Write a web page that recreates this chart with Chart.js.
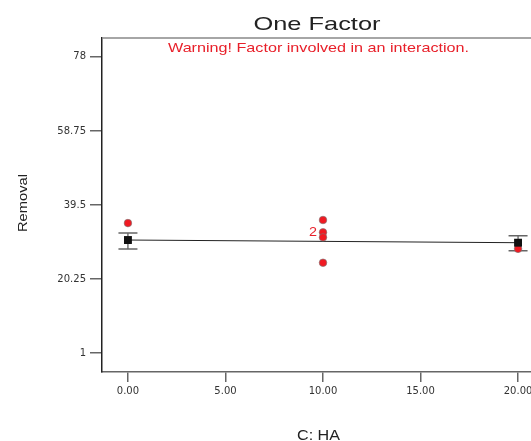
<!DOCTYPE html>
<html>
<head>
<meta charset="utf-8">
<script src="https://cdn.jsdelivr.net/npm/chart.js@4.4.1/dist/chart.umd.min.js"></script>
<style>
body { margin:0; background:#fff; }
#wrap { width:531px; height:441px; overflow:hidden; position:relative; }
</style>
</head>
<body>
<div id="wrap"><canvas id="myChart" width="560" height="441"></canvas></div>
<script>
// factor levels and tick labels
var xTicks = [0, 5, 10, 15, 20];
var xTickLabels = ['0.00', '5.00', '10.00', '15.00', '20.00'];
var yTicks = [1, 20.25, 39.5, 58.75, 78];
var yTickLabels = ['1', '20.25', '39.5', '58.75', '78'];

// predicted means with their LSD bars
var meanX = [0, 20];
var meanY = [30.4, 29.7];
var barLow = [28.05, 27.6];
var barHigh = [32.2, 31.5];

// design points (the one at 32.4 is a double)
var ptX = [0, 10, 10, 10, 10, 20];
var ptY = [34.8, 35.6, 32.4, 31.1, 24.5, 28.1];

function stretchText(ctx, txt, x, y, font, w, color, rot) {
  ctx.save();
  ctx.font = font;
  ctx.fillStyle = color;
  ctx.textAlign = 'center';
  ctx.textBaseline = 'alphabetic';
  var m = ctx.measureText(txt).width;
  ctx.translate(x, y);
  if (rot) ctx.rotate(-Math.PI / 2);
  ctx.scale(w / m, 1);
  ctx.fillText(txt, 0, 0);
  ctx.restore();
}

var extras = {
  id: 'extras',
  beforeDatasetsDraw: function (chart) {
    var ctx = chart.ctx, xs = chart.scales.x, ys = chart.scales.y, a = chart.chartArea;
    // top frame line
    ctx.save();
    ctx.strokeStyle = '#888';
    ctx.lineWidth = 1.5;
    ctx.beginPath();
    ctx.moveTo(a.left, a.top);
    ctx.lineTo(a.right, a.top);
    ctx.stroke();
    // error bars
    for (var i = 0; i < meanX.length; i++) {
      var px = xs.getPixelForValue(meanX[i]);
      var lo = ys.getPixelForValue(barLow[i]);
      var hi = ys.getPixelForValue(barHigh[i]);
      ctx.strokeStyle = '#333';
      ctx.lineWidth = 1;
      ctx.beginPath();
      ctx.moveTo(px, hi);
      ctx.lineTo(px, lo);
      ctx.stroke();
      ctx.strokeStyle = '#666';
      ctx.lineWidth = 1.5;
      ctx.beginPath();
      ctx.moveTo(px - 9.5, hi); ctx.lineTo(px + 9.5, hi);
      ctx.moveTo(px - 9.5, lo); ctx.lineTo(px + 9.5, lo);
      ctx.stroke();
    }
    ctx.restore();
  },
  afterDraw: function (chart) {
    var ctx = chart.ctx, xs = chart.scales.x, ys = chart.scales.y;
    stretchText(ctx, 'One Factor', 317, 30, '19px "Liberation Sans"', 127, '#222');
    stretchText(ctx, 'Warning! Factor involved in an interaction.', 318.5, 52, '13px "Liberation Sans"', 301, '#e8202a');
    stretchText(ctx, 'Removal', 27, 203, '12.5px "Liberation Sans"', 58, '#222', true);
    stretchText(ctx, 'C: HA', 318.5, 440, '15px "Liberation Sans"', 43, '#222');
    // count label for the doubled point
    stretchText(ctx, '2', xs.getPixelForValue(10) - 10, ys.getPixelForValue(32.4) + 4, '12px "Liberation Sans"', 8, '#e8202a');
  }
};

var ctx = document.getElementById('myChart');
var myChart = new Chart(ctx, {
  type: 'scatter',
  data: {
    datasets: [{
      type: 'line',
      data: meanX.map(function (v, i) { return {x: v, y: meanY[i]}; }),
      borderColor: '#222',
      borderWidth: 1,
      pointRadius: 0,
      order: 3
    }, {
      data: ptX.map(function (v, i) { return {x: v, y: ptY[i]}; }),
      backgroundColor: '#f01a22',
      borderColor: '#777',
      borderWidth: 0.6,
      pointRadius: 3.8,
      order: 2
    }, {
      data: meanX.map(function (v, i) { return {x: v, y: meanY[i]}; }),
      pointStyle: 'rect',
      backgroundColor: '#111',
      borderColor: '#111',
      borderWidth: 0,
      pointRadius: 5.6,
      order: 1
    }]
  },
  options: {
    responsive: false,
    animation: false,
    layout: { padding: { top: 38, right: 16, left: 0, bottom: 0 } },
    plugins: { legend: { display: false }, tooltip: { enabled: false }, title: { display: false } },
    scales: {
      x: {
        type: 'linear', min: -1.33, max: 21.33,
        afterBuildTicks: function (s) { s.ticks = xTicks.map(function (v) { return {value: v}; }); },
        afterFit: function (s) { s.height = 69; },
        ticks: {
          autoSkip: false, maxRotation: 0, padding: 3, color: '#333',
          font: { family: 'DejaVu Sans', size: 10 },
          callback: function (v, i) { return xTickLabels[i]; }
        },
        grid: { drawOnChartArea: false, drawTicks: true, tickLength: 10, color: '#666', lineWidth: 1.5 },
        border: { display: true, color: '#666', width: 1.5 }
      },
      y: {
        type: 'linear', min: -3.9, max: 82.9,
        afterBuildTicks: function (s) { s.ticks = yTicks.map(function (v) { return {value: v}; }); },
        afterFit: function (s) { s.width = 102; },
        ticks: {
          autoSkip: false, padding: 4, color: '#333',
          font: { family: 'DejaVu Sans', size: 10 },
          callback: function (v, i) { return yTickLabels[i]; }
        },
        grid: { drawOnChartArea: false, drawTicks: true, tickLength: 12, color: '#666', lineWidth: 1.5 },
        border: { display: true, color: '#222', width: 1.5 }
      }
    }
  },
  plugins: [extras]
});
</script>
</body>
</html>
